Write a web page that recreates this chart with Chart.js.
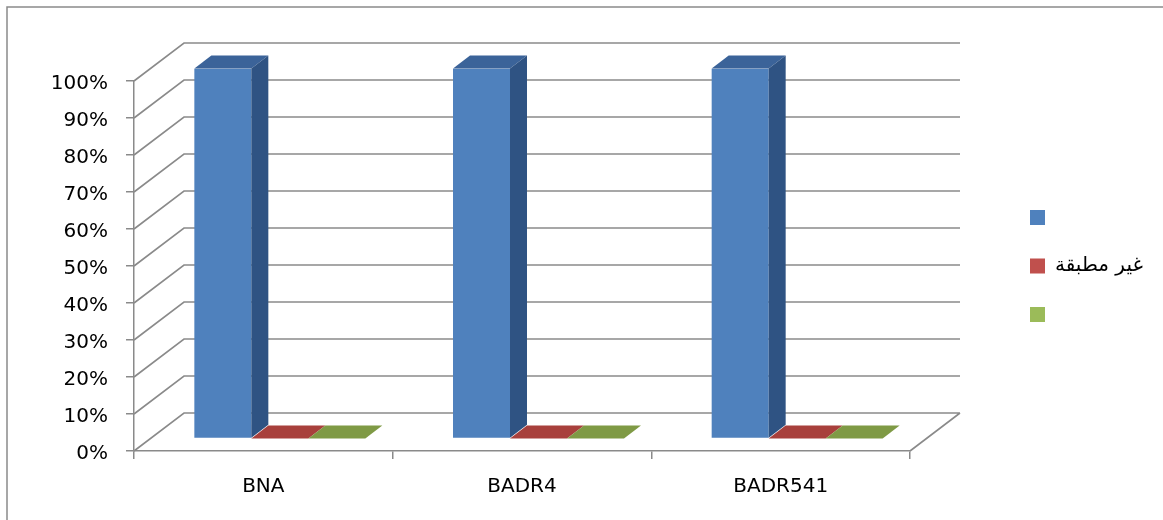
<!DOCTYPE html>
<html>
<head>
<meta charset="utf-8">
<script src="https://cdn.jsdelivr.net/npm/chart.js@4/dist/chart.umd.min.js"></script>
<style>
  html, body { margin: 0; padding: 0; background: #fff; }
  #wrap { position: relative; width: 1163px; height: 520px; overflow: hidden; }
  canvas { display: block; }
</style>
</head>
<body>
<div id="wrap"><canvas id="chart" width="1163" height="520"></canvas></div>
<script>
// Categories, series and tick labels
const categories = ['BNA', 'BADR4', 'BADR541'];
const seriesNames = ['', 'غير مطبقة', ''];
const seriesOne = [100, 100, 100];
const seriesTwo = [0, 0, 0];
const seriesThree = [0, 0, 0];
const yTickLabels = ['0%', '10%', '20%', '30%', '40%', '50%', '60%', '70%', '80%', '90%', '100%'];

// Face colours: front, top, side
const frontColors = ['#4f81bd', '#c0504d', '#9bbb59'];
const topColors = ['#3b6399', '#a8403c', '#7f9a45'];
const sideColors = ['#2f5383', '#8c3330', '#6a833a'];

// 3D projection: full depth vector of the plot box, and where the columns sit in it
const DEPTH = { dx: 50, dy: 38 };
const COL_FRONT = 0.33;
const COL_DEPTH = 0.34;
const LINE = '#8a8a8a';
const FONT = { family: 'DejaVu Sans', size: 20 };

// Legend geometry: box size, spacing, and where the first box starts
const LEGEND_BOX = 15;
const LEGEND_PAD = 28.5;
const LEGEND_BOX_LEFT = 1030;
const PLOT_RIGHT = 910;
const CANVAS_W = 1163;

// Width the legend needs for its longest label (same sum Chart.js uses)
const measure = document.createElement('canvas').getContext('2d');
measure.font = FONT.size + 'px "' + FONT.family + '"';
const longestLabel = Math.max(...seriesNames.map(s => measure.measureText(s).width));
const legendWidth = LEGEND_PAD + LEGEND_BOX + FONT.size / 2 + longestLabel + 10;
const legendLeft = LEGEND_BOX_LEFT - LEGEND_PAD;
const rightPad = Math.max(0, CANVAS_W - legendLeft - legendWidth);

function poly(ctx, pts, fill) {
  ctx.beginPath();
  ctx.moveTo(pts[0][0], pts[0][1]);
  for (let i = 1; i < pts.length; i++) ctx.lineTo(pts[i][0], pts[i][1]);
  ctx.closePath();
  ctx.fillStyle = fill;
  ctx.fill();
}

const frame = {
  id: 'frame',
  beforeDraw(chart) {
    const ctx = chart.ctx;
    ctx.save();
    ctx.strokeStyle = '#8a8a8a';
    ctx.lineWidth = 1.5;
    ctx.beginPath();
    ctx.moveTo(7, chart.height);
    ctx.lineTo(7, 7);
    ctx.lineTo(chart.width, 7);
    ctx.stroke();
    ctx.restore();
  }
};

const box3d = {
  id: 'box3d',
  beforeDatasetsDraw(chart) {
    const { ctx, chartArea: a, scales: { y } } = chart;
    ctx.save();
    ctx.strokeStyle = LINE;
    ctx.lineWidth = 1.6;
    ctx.beginPath();
    // side-wall diagonals running into the back-wall grid lines
    y.ticks.forEach(t => {
      const py = y.getPixelForValue(t.value);
      ctx.moveTo(a.left, py);
      ctx.lineTo(a.left + DEPTH.dx, py - DEPTH.dy);
      ctx.lineTo(a.right + DEPTH.dx, py - DEPTH.dy);
    });
    // right edge of the floor
    const p0 = y.getPixelForValue(0);
    ctx.moveTo(a.right + DEPTH.dx, p0 - DEPTH.dy);
    ctx.lineTo(a.right, p0);
    ctx.stroke();
    ctx.restore();
    // the column fronts are drawn part-way into the box
    ctx.save();
    ctx.translate(DEPTH.dx * COL_FRONT, -DEPTH.dy * COL_FRONT);
  },
  afterDatasetsDraw(chart) {
    const ctx = chart.ctx;
    ctx.restore();
    const ox = DEPTH.dx * COL_FRONT, oy = DEPTH.dy * COL_FRONT;
    const bx = DEPTH.dx * COL_DEPTH, by = DEPTH.dy * COL_DEPTH;
    ctx.save();
    chart.data.datasets.forEach((ds, i) => {
      chart.getDatasetMeta(i).data.forEach(bar => {
        const { x, y, base, width } = bar.getProps(['x', 'y', 'base', 'width'], true);
        const l = x - width / 2 + ox, r = x + width / 2 + ox;
        const t = y - oy, b = base - oy;
        poly(ctx, [[l, t], [r, t], [r + bx, t - by], [l + bx, t - by]], topColors[i]);
        if (b - t > 0.5) {
          poly(ctx, [[r, t], [r, b], [r + bx, b - by], [r + bx, t - by]], sideColors[i]);
        }
      });
    });
    ctx.restore();
  }
};

const seriesValues = [seriesOne, seriesTwo, seriesThree];

new Chart(document.getElementById('chart'), {
  type: 'bar',
  data: {
    labels: categories,
    datasets: seriesValues.map((vals, i) => ({
      label: seriesNames[i],
      data: vals,
      backgroundColor: frontColors[i],
      borderWidth: 0,
      barPercentage: 1,
      categoryPercentage: 0.661
    }))
  },
  options: {
    responsive: false,
    animation: false,
    devicePixelRatio: 1,
    layout: { padding: { top: 81, right: rightPad, bottom: 0, left: 0 } },
    plugins: {
      tooltip: { enabled: false },
      legend: {
        position: 'right',
        fullSize: false,
        align: 'center',
        labels: {
          boxWidth: LEGEND_BOX,
          boxHeight: LEGEND_BOX,
          padding: LEGEND_PAD,
          color: '#000',
          font: FONT
        }
      }
    },
    scales: {
      x: {
        offset: true,
        grid: { offset: true, drawOnChartArea: false, drawTicks: true, tickLength: 8, color: LINE, lineWidth: 1.5 },
        border: { display: true, color: LINE, width: 1.5 },
        ticks: { color: '#000', font: FONT, padding: 16, maxRotation: 0 },
        afterFit(s) { s.height = 69; }
      },
      y: {
        min: 0,
        max: 100,
        ticks: {
          stepSize: 10,
          color: '#000',
          font: FONT,
          padding: 18,
          labelOffset: 3,
          callback: (v, i) => yTickLabels[i]
        },
        grid: { drawOnChartArea: false, drawTicks: true, tickLength: 8, color: LINE, lineWidth: 1.5 },
        border: { display: true, color: LINE, width: 1.5 },
        afterFit(s) { s.width = 134; }
      },
      gap: {
        type: 'linear',
        position: 'right',
        display: true,
        grid: { display: false },
        border: { display: false },
        ticks: { display: false },
        afterFit(s) { s.width = legendLeft - PLOT_RIGHT; }
      }
    }
  },
  plugins: [frame, box3d]
});
</script>
</body>
</html>
